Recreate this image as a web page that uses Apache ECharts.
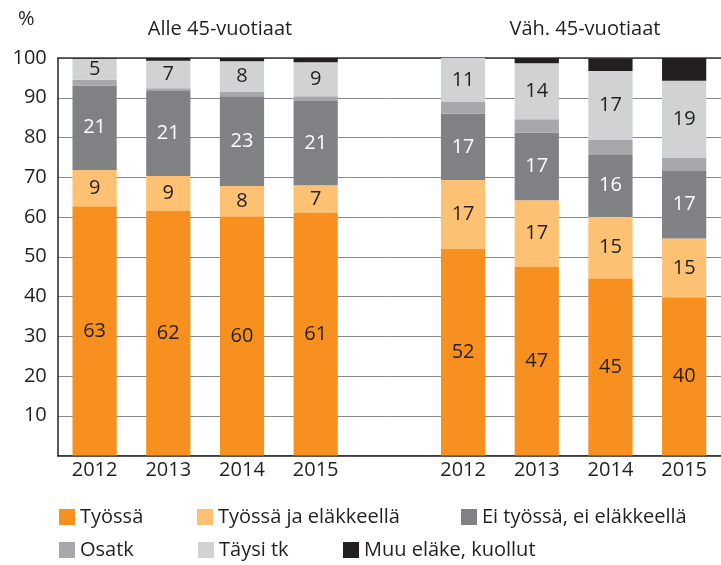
<!DOCTYPE html>
<html>
<head>
<meta charset="UTF-8">
<title>Työssä ja eläkkeellä</title>
<style>
  html, body { margin: 0; padding: 0; background: #fff; }
  #chart { width: 721px; height: 565px; }
</style>
</head>
<body>
<div id="chart"></div>
<script src="https://cdn.jsdelivr.net/npm/echarts@6/dist/echarts.min.js"></script>
<script>
// categories: two groups of years, empty slot between them
var years = ['2012', '2013', '2014', '2015', '', '2012', '2013', '2014', '2015'];
var yTicks = [0, 100, 10];   // min, max, interval

// shares in percent ('-' = gap slot)
var tyossa      = [62.7, 61.5, 60.2, 61.0, '-', 52.1, 47.4, 44.6, 39.8];
var tyossaElake = [9.1, 8.8, 7.6, 7.0, '-', 17.2, 16.8, 15.4, 14.8];
var eiTyossa    = [21.3, 21.4, 22.6, 21.2, '-', 16.7, 17.0, 15.8, 17.0];
var osatk       = [1.4, 0.7, 1.1, 1.2, '-', 2.9, 3.4, 3.6, 3.4];
var taysiTk     = [5.3, 6.9, 7.7, 8.5, '-', 11.1, 14.1, 17.3, 19.3];
var muuElake    = [0.2, 0.7, 0.8, 1.1, '-', 0.0, 1.3, 3.2, 5.7];

var seriesNames = ['Työssä', 'Työssä ja eläkkeellä', 'Ei työssä, ei eläkkeellä',
                   'Osatk', 'Täysi tk', 'Muu eläke, kuollut'];
var groupTitles = ['Alle 45-vuotiaat', 'Väh. 45-vuotiaat'];

var colors = ['#F7901E', '#FDC173', '#808184', '#A7A8AB', '#D1D2D4', '#231F20'];
var FONT = '"Open Sans", sans-serif';
var TEXT = '#231F20';

var chart = echarts.init(document.getElementById('chart'));

function barSeries(i, data, showLabel, labelColor) {
    return {
        name: seriesNames[i],
        type: 'bar',
        stack: 'all',
        data: data,
        barCategoryGap: '40%',
        itemStyle: { color: colors[i] },
        label: {
            show: showLabel,
            position: 'inside',
            color: labelColor,
            fontFamily: FONT,
            fontSize: 20,
            formatter: function (p) { return Math.round(p.value); }
        }
    };
}

// legend items placed one by one, like the original flow layout
var legendPos = [[54, 502], [192, 502], [456, 502], [54, 535], [193, 535], [338, 535]];
var legends = seriesNames.map(function (n, i) {
    return {
        data: [n],
        left: legendPos[i][0],
        top: legendPos[i][1],
        icon: 'rect',
        itemWidth: 16,
        itemHeight: 16,
        itemGap: 0,
        selectedMode: false,
        textStyle: { fontFamily: FONT, fontSize: 20, color: TEXT }
    };
});

var option = {
    animation: false,
    textStyle: { fontFamily: FONT },
    title: [
        { text: '%', left: 13, top: 4, textStyle: { fontFamily: FONT, fontSize: 20, fontWeight: 'normal', color: TEXT } },
        { text: groupTitles[0], left: 215, top: 14, textAlign: 'center',
          textStyle: { fontFamily: FONT, fontSize: 20, fontWeight: 'normal', color: TEXT } },
        { text: groupTitles[1], left: 580, top: 14, textAlign: 'center',
          textStyle: { fontFamily: FONT, fontSize: 20, fontWeight: 'normal', color: TEXT } }
    ],
    legend: legends,
    grid: { left: 57.75, right: -7.25, top: 58, bottom: 109.5 },
    xAxis: [
        {
            type: 'category',
            data: years,
            axisLine: { lineStyle: { color: TEXT, width: 1.5 } },
            axisTick: { show: false },
            axisLabel: { color: TEXT, fontFamily: FONT, fontSize: 20, margin: 5 }
        },
        {
            type: 'category',
            data: years,
            position: 'top',
            axisLine: { lineStyle: { color: '#3a3a3a', width: 1.5 } },
            axisTick: { show: false },
            axisLabel: { show: false }
        }
    ],
    yAxis: {
        type: 'value',
        min: yTicks[0],
        max: yTicks[1],
        interval: yTicks[2],
        axisLine: { show: true, lineStyle: { color: TEXT, width: 1.5 } },
        axisTick: { show: false },
        splitLine: { lineStyle: { color: '#8a8a8a', width: 1 } },
        axisLabel: {
            color: TEXT, fontFamily: FONT, fontSize: 20, margin: 11,
            formatter: function (v) { return v === 0 ? '' : v; }
        }
    },
    series: [
        barSeries(0, tyossa, true, TEXT),
        barSeries(1, tyossaElake, true, TEXT),
        barSeries(2, eiTyossa, true, '#ffffff'),
        barSeries(3, osatk, false, TEXT),
        barSeries(4, taysiTk, true, TEXT),
        barSeries(5, muuElake, false, TEXT)
    ]
};

chart.setOption(option);
</script>
</body>
</html>
